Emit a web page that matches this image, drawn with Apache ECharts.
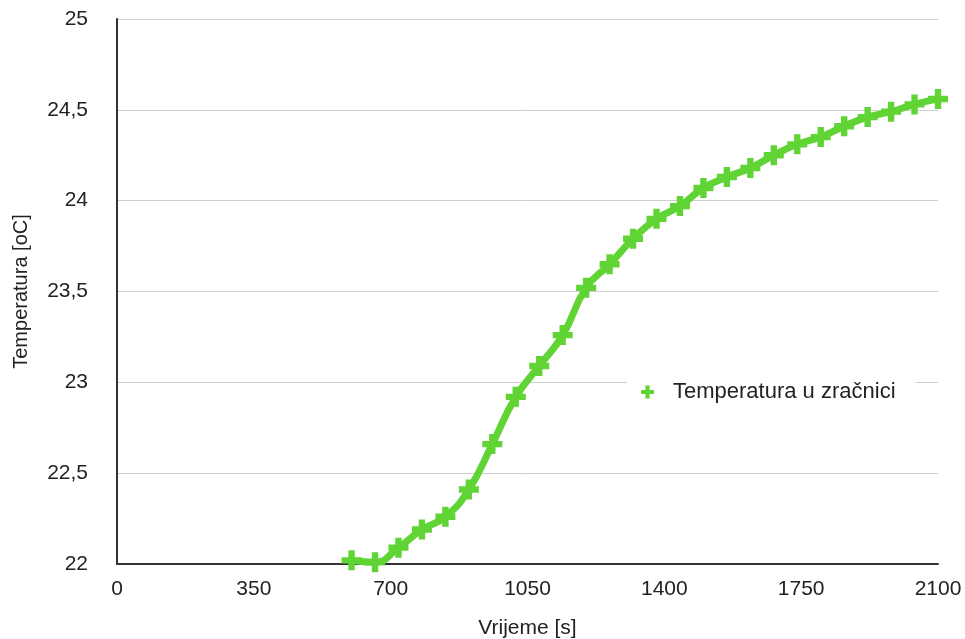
<!DOCTYPE html>
<html>
<head>
<meta charset="utf-8">
<script src="https://cdn.jsdelivr.net/npm/echarts@6/dist/echarts.min.js"></script>
<style>html,body{margin:0;padding:0;background:#fff}#c{width:965px;height:639px}</style>
</head>
<body>
<div id="c"></div>
<script>
var times = [600,660,720,780,840,900,960,1020,1080,1140,1200,1260,1320,1380,1440,1500,1560,1620,1680,1740,1800,1860,1920,1980,2040,2100];
var temps = [22.02,22.01,22.09,22.19,22.26,22.41,22.66,22.92,23.09,23.26,23.52,23.65,23.79,23.90,23.97,24.07,24.13,24.18,24.25,24.31,24.35,24.41,24.46,24.49,24.53,24.56];
var seriesName = 'Temperatura u zračnici';
var xName = 'Vrijeme [s]';
var yName = 'Temperatura [oC]';

var plus = 'path://M3.4,0 H6.6 V3.4 H10 V6.6 H6.6 V10 H3.4 V6.6 H0 V3.4 H3.4 Z';
var green = '#60d434';
var font = 'Liberation Sans, Arial, Helvetica, sans-serif';
var data = times.map(function(t,i){return [t,temps[i]];});
var chart = echarts.init(document.getElementById('c'));
chart.setOption({
  animation:false,
  textStyle:{fontFamily:font},
  grid:{left:117,right:27,top:19,bottom:75,containLabel:false,outerBoundsMode:'none'},
  legend:{
    data:[{name:seriesName,icon:plus}],
    left:627, top:375, itemWidth:13, itemHeight:13, itemGap:10,
    backgroundColor:'#fff', padding:[6,20,6,14],
    textStyle:{fontSize:22,color:'#222',fontFamily:font,padding:[0,0,0,14]}
  },
  xAxis:{
    type:'value', min:0, max:2100, interval:350,
    name:xName, nameLocation:'middle', nameGap:54,
    nameTextStyle:{fontSize:21,color:'#222'},
    axisLine:{show:true,lineStyle:{color:'#333',width:2}},
    axisTick:{show:false},
    axisLabel:{fontSize:21,color:'#222',margin:15,formatter:function(v){return String(v);}},
    splitLine:{show:false}
  },
  yAxis:{
    type:'value', min:22, max:25, interval:0.5,
    name:yName, nameLocation:'middle', nameGap:86,
    nameTextStyle:{fontSize:20,color:'#222'},
    axisLine:{show:true,lineStyle:{color:'#333',width:2}},
    axisTick:{show:false},
    axisLabel:{fontSize:21,color:'#222',margin:29,formatter:function(v){return String(v).replace('.',',');}},
    splitLine:{show:true,lineStyle:{color:'#cfcfcf',width:1}}
  },
  series:[{
    name:seriesName, type:'line', data:data, smooth:0.5,
    symbol:plus, symbolSize:20, showAllSymbol:true,
    lineStyle:{color:green,width:7},
    itemStyle:{color:green},
    z:3
  }]
});
</script>
</body>
</html>
